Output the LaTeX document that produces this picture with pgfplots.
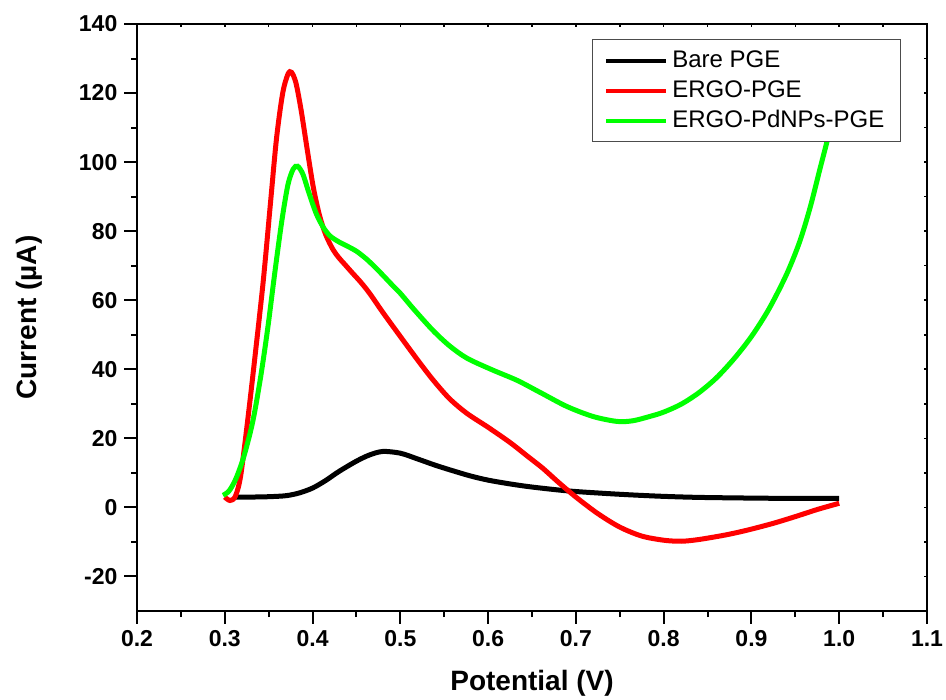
\documentclass[border=0pt]{standalone}
\usepackage{pgfplots}
\pgfplotsset{compat=1.18}
\usepackage{fontspec}
\setmainfont{Liberation Sans}
\begin{document}
\begin{tikzpicture}
\useasboundingbox (-68.5pt,-44.5pt) rectangle (404.5pt,305.5pt);
% mirrored inward ticks on top and right
\begin{axis}[
  at={(0,0)}, anchor=south west,
  scale only axis, width=395pt, height=293.5pt,
  xmin=0.2, xmax=1.1, ymin=-30, ymax=140,
  xtick={0.2,0.3,...,1.1}, ytick={-20,0,...,140},
  minor x tick num=1, minor y tick num=1,
  xtick pos=right, ytick pos=right,
  tick align=inside,
  major tick length=1.7pt, minor tick length=1.7pt,
  xticklabels={}, yticklabels={},
  axis line style={line width=1pt},
  every tick/.style={black, line width=0.8pt},
]
\end{axis}
\begin{axis}[
  at={(0,0)}, anchor=south west,
  scale only axis, width=395pt, height=293.5pt,
  xmin=0.2, xmax=1.1, ymin=-30, ymax=140,
  xtick={0.2,0.3,0.4,0.5,0.6,0.7,0.8,0.9,1.0,1.1},
  xticklabels={0.2,0.3,0.4,0.5,0.6,0.7,0.8,0.9,1.0,1.1},
  ytick={-20,0,20,40,60,80,100,120,140},
  yticklabels={-20,0,20,40,60,80,100,120,140},
  minor x tick num=1, minor y tick num=1,
  xtick pos=left, ytick pos=left,
  tick align=outside,
  major tick length=6.3pt, minor tick length=3pt,
  every tick/.style={black, line width=1pt},
  axis line style={line width=1pt},
  ticklabel style={font=\fontsize{11.5}{13}\selectfont\bfseries},
  xlabel={Potential (V)}, ylabel={Current (\textmu A)},
  label style={font=\fontsize{14}{16}\selectfont\bfseries},
  xlabel style={at={(axis description cs:0.5,-0.1227)}, anchor=center},
  ylabel style={at={(axis description cs:-0.1367,0.5)}, anchor=center},
  legend cell align=left,
  legend image code/.code={\draw[#1, line width=2pt] (0pt,0pt) -- (30pt,0pt);},
  legend style={at={(axis description cs:1,1)}, anchor=north east,
    xshift=-13pt, yshift=-7.5pt,
    draw=black!70, line width=0.6pt, fill=white,
    font=\fontsize{12}{15}\selectfont,
    inner xsep=6pt, inner ysep=3pt, row sep=0pt,
    nodes={inner xsep=2pt, inner ysep=1.75pt, text height=9pt, text depth=2.5pt}},
]
\addplot[black, line width=2.5pt, smooth] coordinates {
(0.312,3.0) (0.33,3.0) (0.35,3.1) (0.37,3.4) (0.385,4.2) (0.40,5.6) (0.415,7.8)
(0.43,10.4) (0.45,13.4) (0.465,15.2) (0.48,16.2) (0.50,15.7) (0.52,14.0)
(0.54,12.2) (0.56,10.6) (0.58,9.1) (0.60,7.9) (0.625,6.8) (0.65,5.9) (0.69,4.8)
(0.73,4.1) (0.765,3.6) (0.80,3.2) (0.84,2.9) (0.90,2.7) (0.95,2.6) (1.0,2.6)};
\addlegendentry{Bare PGE}
\addplot[red, line width=2.5pt, smooth] coordinates {
(0.300,3.0) (0.306,2.0) (0.312,3.2) (0.318,9) (0.326,25) (0.335,45) (0.344,66)
(0.352,88) (0.359,107) (0.366,120) (0.372,125.5) (0.376,126) (0.381,123)
(0.387,115) (0.394,103.5) (0.401,92.5) (0.408,84.5) (0.415,79) (0.423,74.8)
(0.43,72.3) (0.437,70.3) (0.445,68) (0.455,65.2) (0.465,62) (0.48,56.5)
(0.50,49.5) (0.52,42.6) (0.537,37) (0.556,31.5) (0.576,27.2) (0.60,23.2)
(0.625,18.8) (0.645,14.8) (0.662,11.4) (0.68,7.3) (0.70,3.0) (0.725,-1.8)
(0.75,-5.7) (0.775,-8.3) (0.80,-9.5) (0.82,-9.8) (0.84,-9.3) (0.87,-8)
(0.895,-6.6) (0.925,-4.6) (0.952,-2.5) (0.975,-0.6) (1.0,1.2)};
\addlegendentry{ERGO-PGE}
\addplot[green, line width=2.5pt, smooth] coordinates {
(0.298,3.5) (0.305,4.8) (0.313,8.5) (0.322,15) (0.332,25) (0.341,38) (0.349,52)
(0.357,68) (0.365,83) (0.372,93.5) (0.378,98) (0.383,98.8) (0.389,96.5)
(0.396,91) (0.404,85.2) (0.412,81.2) (0.42,78.6) (0.43,76.9) (0.44,75.6)
(0.45,74.2) (0.462,71.8) (0.475,68.6) (0.49,64.6) (0.50,62) (0.515,57.5)
(0.537,51.3) (0.556,46.8) (0.576,43.2) (0.605,39.8) (0.633,36.8) (0.66,33.2)
(0.69,29.2) (0.72,26.3) (0.747,24.9) (0.765,25.1) (0.785,26.4) (0.80,27.6)
(0.82,29.9) (0.84,33.2) (0.86,37.5) (0.88,43) (0.90,49.5) (0.92,57.5)
(0.94,67.5) (0.955,77) (0.967,87) (0.978,98) (0.988,108) (1.0,122)};
\addlegendentry{ERGO-PdNPs-PGE}
\end{axis}
\end{tikzpicture}
\end{document}
